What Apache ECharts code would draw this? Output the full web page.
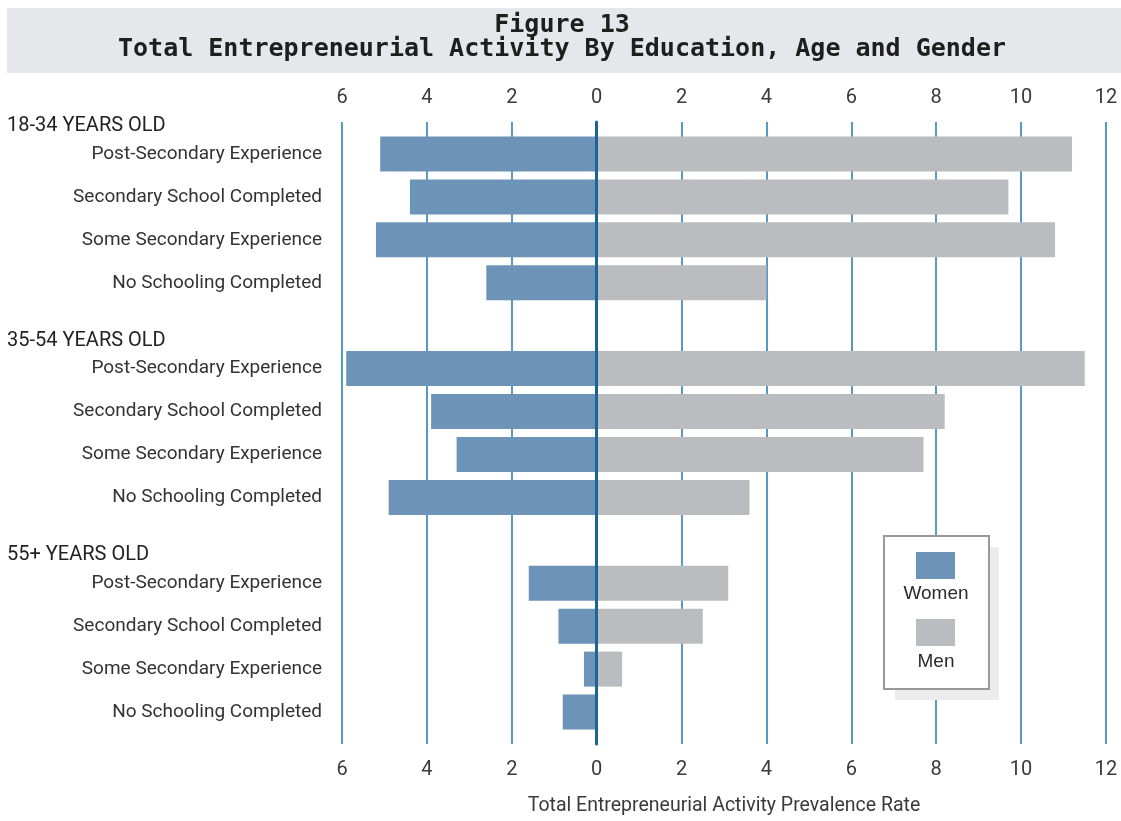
<!DOCTYPE html>
<html>
<head>
<meta charset="utf-8">
<title>Total Entrepreneurial Activity By Education, Age and Gender</title>
<script src="https://cdn.jsdelivr.net/npm/echarts@6/dist/echarts.min.js"></script>
<style>
  html, body { margin: 0; padding: 0; background: #ffffff; }
  #chart { width: 1121px; height: 821px; }
</style>
</head>
<body>
<div id="chart"></div>
<script>
// Age groups and education levels (rows are listed top to bottom)
const ageGroups = ['18-34 YEARS OLD', '35-54 YEARS OLD', '55+ YEARS OLD'];
const educationLevels = [
  'Post-Secondary Experience',
  'Secondary School Completed',
  'Some Secondary Experience',
  'No Schooling Completed'
];

// Prevalence rates per age group, in the order of educationLevels
const women1834 = [5.1, 4.4, 5.2, 2.6];
const women3554 = [5.9, 3.9, 3.3, 4.9];
const women55 = [1.6, 0.9, 0.3, 0.8];
const men1834 = [11.2, 9.7, 10.8, 4.0];
const men3554 = [11.5, 8.2, 7.7, 3.6];
const men55 = [3.1, 2.5, 0.6, 0.0];

// Axis ticks
const axisMin = -6;
const axisMax = 12;
const axisStep = 2;

const seriesNames = ['Women', 'Men'];

const womenByGroup = [women1834, women3554, women55];
const menByGroup = [men1834, men3554, men55];

// Build the category list: one row per level, a blank spacer row between groups
const categories = [];
const womenData = [];
const menData = [];
const groupFirstRow = [];
ageGroups.forEach(function (g, gi) {
  if (gi > 0) {
    categories.push('gap' + gi + '|');
    womenData.push(null);
    menData.push(null);
  }
  groupFirstRow.push(categories.length);
  educationLevels.forEach(function (lvl, li) {
    categories.push(g + '|' + lvl);
    womenData.push(-womenByGroup[gi][li]);   // women drawn to the left of zero
    menData.push(menByGroup[gi][li]);
  });
});

const labelFont = "'Liberation Sans Narrow', 'Arial Narrow', 'Roboto', sans-serif";
const textColor = '#333333';
const gridColor = '#2f80b5';
const zeroColor = '#1a6496';
const womenColor = '#6e93b8';
const menColor = '#bbbcc0';

const chart = echarts.init(document.getElementById('chart'), null, { renderer: 'canvas' });

const tickLabel = {
  fontFamily: labelFont,
  fontSize: 20,
  color: '#3a3a3a',
  formatter: function (v) { return String(Math.abs(v)); }
};

const option = {
  backgroundColor: '#ffffff',
  animation: false,
  grid: [
    // frame for the vertical reference lines and both tick rows
    { left: 342, right: 15, top: 122, bottom: 77, containLabel: false },
    // frame for the bars
    { left: 342, right: 15, top: 132.5, bottom: 87.5, containLabel: false }
  ],
  xAxis: [
    {
      gridIndex: 0, type: 'value', position: 'top',
      min: axisMin, max: axisMax, interval: axisStep,
      axisLine: { show: false }, axisTick: { show: false },
      axisLabel: Object.assign({ margin: 14 }, tickLabel),
      splitLine: { show: true, lineStyle: { color: gridColor, width: 1.6 } },
      z: 0
    },
    {
      gridIndex: 0, type: 'value', position: 'bottom',
      min: axisMin, max: axisMax, interval: axisStep,
      axisLine: { show: false }, axisTick: { show: false },
      axisLabel: Object.assign({ margin: 16 }, tickLabel),
      splitLine: { show: false },
      name: 'Total Entrepreneurial Activity Prevalence Rate',
      nameLocation: 'middle',
      nameGap: 52,
      nameTextStyle: { fontFamily: labelFont, fontSize: 19.5, color: '#3a3a3a' },
      z: 0
    },
    {
      gridIndex: 1, type: 'value',
      min: axisMin, max: axisMax, interval: axisStep,
      show: false
    }
  ],
  yAxis: [
    {
      // zero line, drawn above the bars
      gridIndex: 0, type: 'value', min: 0, max: 1,
      axisLine: { show: true, onZero: true, onZeroAxisIndex: 0, lineStyle: { color: zeroColor, width: 3 } },
      axisTick: { show: false }, axisLabel: { show: false }, splitLine: { show: false },
      z: 10
    },
    {
      gridIndex: 1, type: 'category', inverse: true,
      data: categories,
      axisLine: { show: false }, axisTick: { show: false }, splitLine: { show: false },
      axisLabel: {
        margin: 20,
        fontFamily: labelFont,
        fontSize: 19,
        color: textColor,
        formatter: function (v) { return v.split('|')[1]; }
      }
    }
  ],
  series: [
    {
      name: seriesNames[0], type: 'bar',
      xAxisIndex: 2, yAxisIndex: 1,
      data: womenData,
      barWidth: 35, barGap: '-100%',
      itemStyle: { color: womenColor },
      z: 2
    },
    {
      name: seriesNames[1], type: 'bar',
      xAxisIndex: 2, yAxisIndex: 1,
      data: menData,
      barWidth: 35, barGap: '-100%',
      itemStyle: { color: menColor },
      z: 2
    }
  ],
  graphic: [
    // title band
    {
      type: 'rect', left: 7, top: 8, z: 0,
      shape: { width: 1114, height: 65 },
      style: { fill: '#e5e7eb' }
    },
    {
      type: 'text', x: 562, y: 13, z: 1,
      style: {
        text: 'Figure 13\nTotal Entrepreneurial Activity By Education, Age and Gender',
        font: "bold 25px 'DejaVu Sans Mono', monospace",
        lineHeight: 24,
        align: 'center',
        verticalAlign: 'top',
        fill: '#1e1e1e'
      }
    },
    // legend box with drop shadow
    {
      type: 'rect', left: 895, top: 547, z: 20,
      shape: { width: 104, height: 153 },
      style: { fill: '#ececec' }
    },
    {
      type: 'rect', left: 883, top: 535, z: 21,
      shape: { width: 105, height: 153 },
      style: { fill: '#ffffff', stroke: '#999999', lineWidth: 2 }
    },
    {
      type: 'rect', left: 916, top: 552, z: 22,
      shape: { width: 39, height: 27 },
      style: { fill: womenColor }
    },
    {
      type: 'text', x: 936, y: 594, z: 22,
      style: {
        text: seriesNames[0], font: "19px 'Liberation Sans', Arial, sans-serif",
        fill: '#2a2a2a', align: 'center', verticalAlign: 'middle'
      }
    },
    {
      type: 'rect', left: 916, top: 619, z: 22,
      shape: { width: 39, height: 27 },
      style: { fill: menColor }
    },
    {
      type: 'text', x: 936, y: 662, z: 22,
      style: {
        text: seriesNames[1], font: "19px 'Liberation Sans', Arial, sans-serif",
        fill: '#2a2a2a', align: 'center', verticalAlign: 'middle'
      }
    }
  ]
};

chart.setOption(option);

// Age-group headings sit just above the first row of each group
const bandHeight = (821 - 132.5 - 87.5) / categories.length;
const headings = ageGroups.map(function (g, gi) {
  const yCenter = chart.convertToPixel({ yAxisIndex: 1 }, groupFirstRow[gi]);
  return {
    type: 'text', x: 7, y: yCenter - 0.65 * bandHeight, z: 5,
    style: {
      text: g,
      font: "20px " + labelFont,
      fill: '#222222',
      align: 'left',
      verticalAlign: 'middle'
    }
  };
});
chart.setOption({ graphic: option.graphic.concat(headings) });
</script>
</body>
</html>
